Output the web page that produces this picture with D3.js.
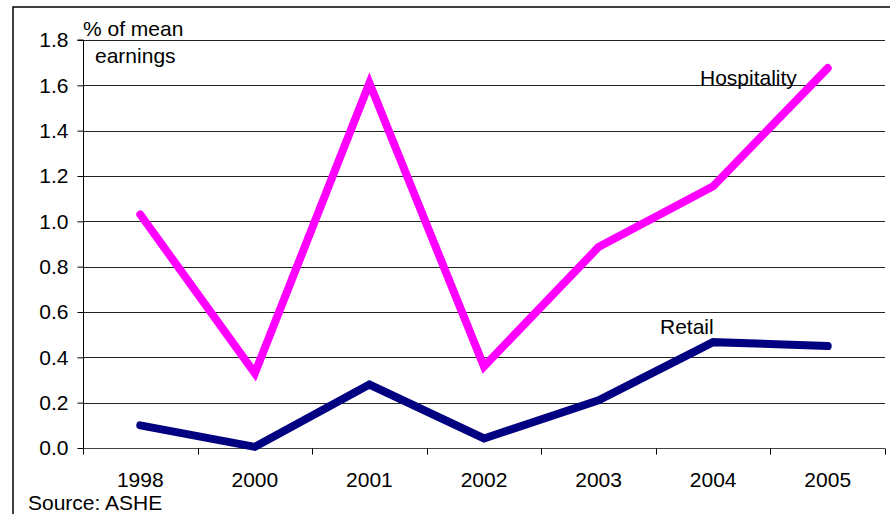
<!DOCTYPE html>
<html><head><meta charset="utf-8">
<script src="https://cdn.jsdelivr.net/npm/d3@7"></script>
<style>body{margin:0;background:#fff}svg{display:block}text{font-family:Arial,"Liberation Sans",sans-serif;fill:#000}</style>
</head><body><svg id="c" width="890" height="514"></svg>
<script>
const years = ["1998","2000","2001","2002","2003","2004","2005"];
const hospitality = [1.03, 0.33, 1.61, 0.36, 0.887, 1.155, 1.676];
const retail = [0.10, 0.005, 0.28, 0.042, 0.21, 0.467, 0.45];
const yTicks = [0,0.2,0.4,0.6,0.8,1.0,1.2,1.4,1.6,1.8];

const svg = d3.select("#c");
const L=83, R=885, T=40, B=448;
const FS = 21;
const x = d3.scaleBand().domain(years).range([L,R]).padding(0);
const y = d3.scaleLinear().domain([0,1.8]).range([B,T]);

// outer frame
svg.append("rect").attr("x",13).attr("y",7).attr("width",900).attr("height",600)
  .attr("fill","none").attr("stroke","#000").attr("stroke-width",1.5);

// gridlines
svg.append("g").selectAll("line").data(yTicks.filter(d=>d>0)).join("line")
  .attr("x1",L).attr("x2",R).attr("y1",d=>Math.round(y(d))+0.5).attr("y2",d=>Math.round(y(d))+0.5)
  .attr("stroke","#222").attr("stroke-width",1);

// y axis
const ya = svg.append("g").attr("transform",`translate(${L+0.5},0)`)
  .call(d3.axisLeft(y).tickValues(yTicks).tickFormat(d3.format(".1f")).tickSize(6).tickPadding(9));
ya.select(".domain").attr("stroke","#000").attr("d",`M-6,${T}H0V${B}`);
ya.selectAll(".tick line").attr("stroke","#000");
ya.selectAll(".tick text").attr("font-size",FS).attr("font-family","Arial, 'Liberation Sans', sans-serif").attr("fill","#000");

// x axis
const xa = svg.append("g").attr("transform",`translate(0,${Math.round(B)+0.5})`);
xa.append("line").attr("x1",L).attr("x2",R).attr("stroke","#444");
const bounds = years.map(d=>x(d)).concat([x(years[years.length-1])+x.bandwidth()]);
xa.selectAll("line.tk").data(bounds).join("line").attr("class","tk")
  .attr("x1",d=>Math.round(d)+0.5).attr("x2",d=>Math.round(d)+0.5).attr("y1",0).attr("y2",6).attr("stroke","#000");
xa.selectAll("text").data(years).join("text")
  .attr("x",d=>x(d)+x.bandwidth()/2).attr("y",38).attr("text-anchor","middle").attr("font-size",FS).text(d=>d);

// lines
const line = d3.line().x((d,i)=>x(years[i])+x.bandwidth()/2).y(d=>y(d));
svg.append("path").datum(retail).attr("d",line).attr("fill","none").attr("stroke","#000080")
  .attr("stroke-width",8).attr("stroke-linejoin","miter").attr("stroke-linecap","round");
svg.append("path").datum(hospitality).attr("d",line).attr("fill","none").attr("stroke","#FF00FF")
  .attr("stroke-width",8).attr("stroke-linejoin","miter").attr("stroke-linecap","round");

// labels
svg.append("text").attr("x",83).attr("y",36).attr("font-size",FS).text("% of mean");
svg.append("text").attr("x",95).attr("y",63).attr("font-size",FS).text("earnings");
svg.append("text").attr("x",700).attr("y",85).attr("font-size",FS).text("Hospitality");
svg.append("text").attr("x",660).attr("y",334).attr("font-size",FS).text("Retail");
svg.append("text").attr("x",28).attr("y",510).attr("font-size",FS).text("Source: ASHE");
</script></body></html>
